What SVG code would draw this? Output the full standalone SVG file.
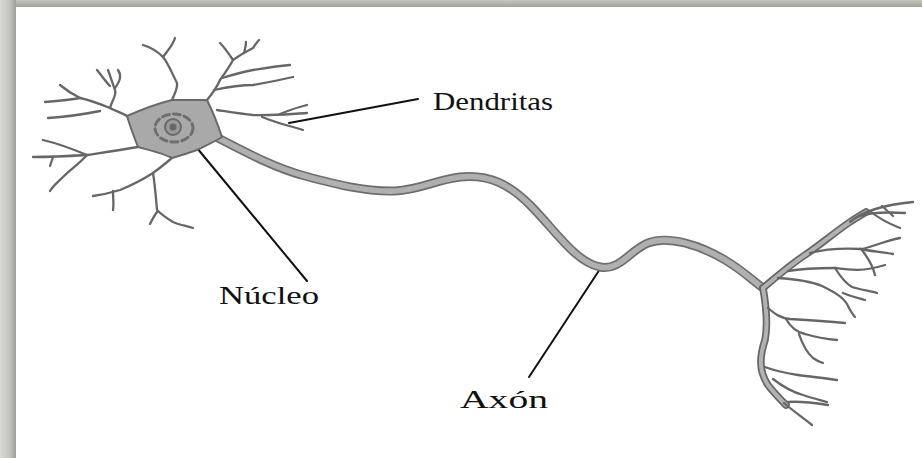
<svg xmlns="http://www.w3.org/2000/svg" width="922" height="458" viewBox="0 0 922 458">
  <defs>
    <linearGradient id="topBand" x1="0" y1="0" x2="0" y2="1">
      <stop offset="0" stop-color="#c4c6be"/>
      <stop offset="1" stop-color="#a2a49c"/>
    </linearGradient>
    <linearGradient id="leftBand" x1="0" y1="0" x2="1" y2="0">
      <stop offset="0" stop-color="#d8dad4"/>
      <stop offset="0.6" stop-color="#c2c4bd"/>
      <stop offset="1" stop-color="#9c9e97"/>
    </linearGradient>
    <style>
      .dend { fill: none; stroke: #666; stroke-width: 2.3; stroke-linecap: round; stroke-linejoin: round; }
      .trunkOut { fill: none; stroke: #666; stroke-width: 7.5; stroke-linecap: round; stroke-linejoin: round; }
      .trunkIn { fill: none; stroke: #b2b2b2; stroke-width: 4; stroke-linecap: round; stroke-linejoin: round; }
      .axonOut { fill: none; stroke: #6e6e6e; stroke-width: 9; stroke-linecap: round; }
      .axonIn { fill: none; stroke: #b0b0b0; stroke-width: 5.6; stroke-linecap: round; }
      .leader { fill: none; stroke: #111; stroke-width: 2; stroke-linecap: round; }
      .label { font-family: "Liberation Serif", "Times New Roman", serif; font-size: 25px; fill: #111; }
    </style>
  </defs>

  <!-- page with shadowed frame -->
  <rect x="0" y="0" width="922" height="458" fill="#ffffff"/>
  <rect x="0" y="0" width="922" height="7" fill="url(#topBand)"/>
  <rect x="0" y="0" width="16" height="458" fill="url(#leftBand)"/>

  <!-- leader lines from labels to the cell parts -->
  <g id="connectors">
    <path class="leader" d="M289,123 L418,99"/>
    <path class="leader" d="M197,148 L307,281"/>
    <path class="leader" d="M602,266 L529,377"/>
  </g>

  <!-- axon: soma to terminal junction -->
  <g id="axon">
    <path class="axonOut" d="M216,137 C245,152 275,168 305,176 C335,184 365,192 395,191 C420,190 435,180 460,177 C490,174 510,185 530,205 C555,230 575,262 600,267 C620,271 630,250 648,243 C668,235 700,245 725,260 C742,270 752,280 763,288"/>
    <path class="axonIn" d="M216,137 C245,152 275,168 305,176 C335,184 365,192 395,191 C420,190 435,180 460,177 C490,174 510,185 530,205 C555,230 575,262 600,267 C620,271 630,250 648,243 C668,235 700,245 725,260 C742,270 752,280 763,288"/>
  </g>

  <!-- axon terminal branches -->
  <g id="terminal">
    <path class="trunkOut" d="M763,288 C775,278 790,265 805,255 C820,245 835,232 850,222 C856,218 861,215 866,212"/>
    <path class="trunkOut" d="M763,288 C766,305 768,325 765,340 C760,355 758,370 768,385 C774,393 780,399 786,405"/>
    <path class="trunkIn" d="M763,288 C775,278 790,265 805,255 C820,245 835,232 850,222 C856,218 861,215 866,212"/>
    <path class="trunkIn" d="M763,288 C766,305 768,325 765,340 C760,355 758,370 768,385 C774,393 780,399 786,405"/>
    <path class="dend" d="M850,222 C862,212 880,205 913,202"/>
    <path class="dend" d="M860,216 C872,212 888,212 905,213"/>
    <path class="dend" d="M870,211 C878,218 890,224 900,228"/>
    <path class="dend" d="M882,206 L893,216"/>
    <path class="dend" d="M810,253 C825,249 845,248 862,249 C875,246 888,240 900,238"/>
    <path class="dend" d="M860,249 C870,251 882,252 893,254"/>
    <path class="dend" d="M862,250 C868,258 873,266 875,275"/>
    <path class="dend" d="M788,271 C805,268 820,268 835,268 C850,270 862,272 885,265"/>
    <path class="dend" d="M835,268 C840,276 845,283 852,287 C862,290 870,291 877,293"/>
    <path class="dend" d="M778,278 C795,279 810,281 822,286 C832,291 842,296 847,304 C850,310 852,314 855,317"/>
    <path class="dend" d="M843,293 C850,296 858,298 865,300"/>
    <path class="dend" d="M768,308 C775,314 780,318 790,319 C808,320 825,321 845,323"/>
    <path class="dend" d="M786,319 C790,326 795,332 805,334 C815,337 825,339 837,340"/>
    <path class="dend" d="M799,334 C802,343 806,352 813,358 C817,361 820,362 823,363"/>
    <path class="dend" d="M765,367 C775,371 785,373 798,375 C812,377 825,378 837,380"/>
    <path class="dend" d="M773,379 C782,386 792,392 803,395 C812,398 820,400 827,402"/>
    <path class="dend" d="M788,402 C800,401 815,403 828,405"/>
    <path class="dend" d="M784,403 C792,410 802,417 812,425"/>
  </g>

  <!-- dendrites around the soma -->
  <g id="dendrites">
    <path class="dend" d="M172,100 C175,93 178,88 177,83 C172,73 168,63 163,57 C158,52 150,47 143,45"/>
    <path class="dend" d="M163,57 C168,50 173,45 175,38"/>
    <path class="dend" d="M127,116 C120,112 113,110 110,108 C112,100 117,95 115,90 C112,82 110,75 108,70"/>
    <path class="dend" d="M115,88 C120,81 122,76 118,70"/>
    <path class="dend" d="M97,70 C102,76 106,82 110,86"/>
    <path class="dend" d="M110,108 C100,104 90,100 80,98 C72,94 66,90 60,85"/>
    <path class="dend" d="M80,98 C70,100 58,101 45,102"/>
    <path class="dend" d="M100,111 C85,114 65,117 48,118"/>
    <path class="dend" d="M138,147 C120,150 100,153 87,155 C70,156 50,157 33,157"/>
    <path class="dend" d="M87,155 C75,150 60,144 43,140"/>
    <path class="dend" d="M53,157 C52,160 51,163 50,166"/>
    <path class="dend" d="M87,155 C80,163 70,170 63,177 C58,182 53,186 50,191"/>
    <path class="dend" d="M172,158 C166,163 160,168 153,173 C142,180 130,186 120,190 C110,193 100,195 93,196"/>
    <path class="dend" d="M113,191 C113,198 114,204 113,210"/>
    <path class="dend" d="M153,173 C155,185 156,198 157,210 C162,215 168,219 173,222 C180,225 187,226 193,228"/>
    <path class="dend" d="M157,212 C154,216 152,220 150,224"/>
    <path class="dend" d="M207,100 C212,94 217,87 220,80 C225,73 230,66 233,60 C229,54 225,48 220,43"/>
    <path class="dend" d="M233,60 C240,55 247,51 253,48 C255,45 257,42 259,40"/>
    <path class="dend" d="M244,53 C245,49 246,46 246,42"/>
    <path class="dend" d="M222,78 C232,75 242,72 253,70 C265,68 278,66 290,65"/>
    <path class="dend" d="M214,90 C228,87 241,85 253,85 C265,83 280,80 293,77"/>
    <path class="dend" d="M217,110 C230,112 242,114 253,115 C270,116 290,114 307,113"/>
    <path class="dend" d="M280,114 C290,110 298,107 307,105"/>
    <path class="dend" d="M262,117 C275,122 285,125 293,127 C297,128 300,129 303,130"/>
  </g>

  <!-- cell body with nucleus -->
  <g id="soma">
    <path d="M127,116 C145,108 160,103 172,100 L207,100 C213,112 218,125 222,137 C212,143 203,147 197,150 C188,153 180,156 172,158 C160,152 148,150 138,147 C134,137 130,126 127,116 Z" fill="#a9a9a9" stroke="#6a6a6a" stroke-width="2" stroke-linejoin="round"/>
    <ellipse cx="174" cy="128" rx="19" ry="14" fill="none" stroke="#6e6e6e" stroke-width="3" stroke-dasharray="7 4" stroke-linecap="round"/>
    <circle cx="173" cy="127" r="8" fill="#9a9a9a" stroke="#6a6a6a" stroke-width="2"/>
    <circle cx="173" cy="127" r="3.5" fill="#666"/>
  </g>

  <!-- labels -->
  <g id="label-dendritas">
    <text class="label" x="433" y="110" textLength="120" lengthAdjust="spacingAndGlyphs">Dendritas</text>
  </g>
  <g id="label-nucleo">
    <text class="label" x="219" y="304" textLength="100" lengthAdjust="spacingAndGlyphs">Núcleo</text>
  </g>
  <g id="label-axon">
    <text class="label" x="460" y="408" textLength="88" lengthAdjust="spacingAndGlyphs">Axón</text>
  </g>
</svg>
